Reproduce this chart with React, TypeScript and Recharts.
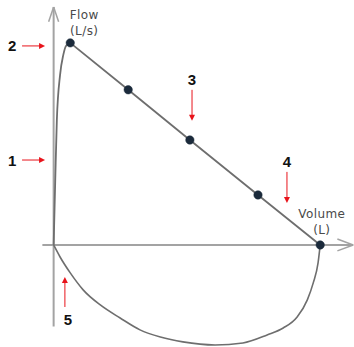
import {
  ComposedChart,
  Line,
  XAxis,
  YAxis,
  ReferenceLine,
  ReferenceDot,
} from "recharts";

// expiration: steep rise to peak flow ...
const UP_VOLUME = [0, 0.03, 0.06, 0.12, 0.18, 0.23, 0.31];
const UP_FLOW = [0, 3.18, 6.12, 8.33, 9.31, 9.75, 9.9];
// ... then a straight fall to the end of the breath (these get dots)
const FALL_VOLUME = [0.31, 1.39, 2.54, 3.81, 4.97];
const FALL_FLOW = [9.9, 7.6, 5.14, 2.45, 0];
// inspiration loop under the volume axis
const INSP_VOLUME = [0, 0.12, 0.31, 0.55, 0.87, 1.24, 1.61, 1.99, 2.41, 3.01, 3.53, 3.98, 4.28, 4.54, 4.73, 4.84, 4.93, 4.97];
const INSP_FLOW = [0, -0.59, -1.37, -2.2, -2.94, -3.58, -4.16, -4.51, -4.75, -4.9, -4.8, -4.41, -4.07, -3.53, -2.69, -1.86, -0.88, 0];

// numbered red callouts: where the arrow tip points and which way it points
const CALLOUT_TEXT = ["1", "2", "3", "4", "5"];
const CALLOUT_VOLUME = [-0.16, -0.16, 2.58, 4.35, 0.21];
const CALLOUT_FLOW = [4.16, 9.75, 6.08, 2.06, -1.57];
const CALLOUT_DIR = ["right", "right", "down", "down", "up"];

const zip = (vs: number[], fs: number[]) => vs.map((v, i) => ({ v, f: fs[i] }));

const upData = zip(UP_VOLUME, UP_FLOW);
const fallData = zip(FALL_VOLUME, FALL_FLOW);
const inspData = zip(INSP_VOLUME, INSP_FLOW);

const AXIS = "#a3a3a3";
const CURVE = "#6e6e6e";
const DOT = "#1b2a3b";
const RED = "#e8141b";

function Callout(props: any) {
  const { cx, cy, text, dir } = props;
  let line, head, tx, ty;
  if (dir === "right") {
    line = [cx - 23, cy, cx - 4, cy];
    head = `${cx},${cy} ${cx - 6},${cy - 3} ${cx - 6},${cy + 3}`;
    tx = cx - 33;
    ty = cy;
  } else if (dir === "down") {
    line = [cx, cy - 31, cx, cy - 4];
    head = `${cx},${cy} ${cx - 3},${cy - 6} ${cx + 3},${cy - 6}`;
    tx = cx;
    ty = cy - 41;
  } else {
    line = [cx, cy + 30, cx, cy + 4];
    head = `${cx},${cy} ${cx - 3},${cy + 6} ${cx + 3},${cy + 6}`;
    tx = cx + 3;
    ty = cy + 43;
  }
  return (
    <g>
      <line x1={line[0]} y1={line[1]} x2={line[2]} y2={line[3]} stroke={RED} strokeWidth={1} />
      <polygon points={head} fill={RED} />
      <text
        x={tx}
        y={ty}
        textAnchor="middle"
        dominantBaseline="central"
        fontFamily="'Liberation Sans', Arial, sans-serif"
        fontWeight="bold"
        fontSize={15}
        fill="#111"
      >
        {text}
      </text>
    </g>
  );
}

function Title(props: any) {
  const { cx, cy, lines } = props;
  return (
    <text
      x={cx}
      y={cy}
      textAnchor="middle"
      fontFamily="'DejaVu Sans', Verdana, sans-serif"
      fontSize={12}
      letterSpacing={0.4}
      fill="#4a4a4a"
    >
      {lines.map((l: string, i: number) => (
        <tspan key={i} x={cx} dy={i === 0 ? 4 : 16}>
          {l}
        </tspan>
      ))}
    </text>
  );
}

export default function App() {
  return (
    <div style={{ width: 354, height: 347, background: "#fff" }}>
      <style>{`body{margin:0}`}</style>
      <ComposedChart width={354} height={347} margin={{ top: 0, right: 0, bottom: 0, left: 0 }}>
        <XAxis type="number" dataKey="v" domain={[-1, 5.6]} allowDataOverflow hide />
        <YAxis type="number" dataKey="f" domain={[-5, 12]} allowDataOverflow hide />

        {/* axes with open arrowheads */}
        <ReferenceLine segment={[{ x: 0, y: -4 }, { x: 0, y: 11.66 }]} stroke={AXIS} strokeWidth={2} />
        <ReferenceLine segment={[{ x: 0, y: 11.66 }, { x: -0.093, y: 10.93 }]} stroke={AXIS} strokeWidth={1.5} />
        <ReferenceLine segment={[{ x: 0, y: 11.66 }, { x: 0.093, y: 10.93 }]} stroke={AXIS} strokeWidth={1.5} />
        <ReferenceLine segment={[{ x: -0.21, y: 0 }, { x: 5.585, y: 0 }]} stroke={AXIS} strokeWidth={2} />
        <ReferenceLine segment={[{ x: 5.585, y: 0 }, { x: 5.29, y: 0.29 }]} stroke={AXIS} strokeWidth={1.5} />
        <ReferenceLine segment={[{ x: 5.585, y: 0 }, { x: 5.29, y: -0.29 }]} stroke={AXIS} strokeWidth={1.5} />

        <Line data={inspData} dataKey="f" type="monotone" stroke={CURVE} strokeWidth={1.6} dot={false} activeDot={false} isAnimationActive={false} />
        <Line data={upData} dataKey="f" type="monotone" stroke={CURVE} strokeWidth={1.8} dot={false} activeDot={false} isAnimationActive={false} />
        <Line
          data={fallData}
          dataKey="f"
          type="linear"
          stroke={CURVE}
          strokeWidth={1.8}
          dot={{ r: 4.2, fill: DOT, stroke: DOT, strokeWidth: 0.5 }}
          activeDot={false}
          isAnimationActive={false}
        />

        <ReferenceDot x={0.57} y={11.27} r={0} shape={(p: any) => <Title {...p} lines={["Flow", "(L/s)"]} />} />
        <ReferenceDot x={5.0} y={1.52} r={0} shape={(p: any) => <Title {...p} lines={["Volume", "(L)"]} />} />

        {CALLOUT_TEXT.map((t, i) => (
          <ReferenceDot
            key={t}
            x={CALLOUT_VOLUME[i]}
            y={CALLOUT_FLOW[i]}
            r={0}
            shape={(p: any) => <Callout {...p} text={t} dir={CALLOUT_DIR[i]} />}
          />
        ))}
      </ComposedChart>
    </div>
  );
}
